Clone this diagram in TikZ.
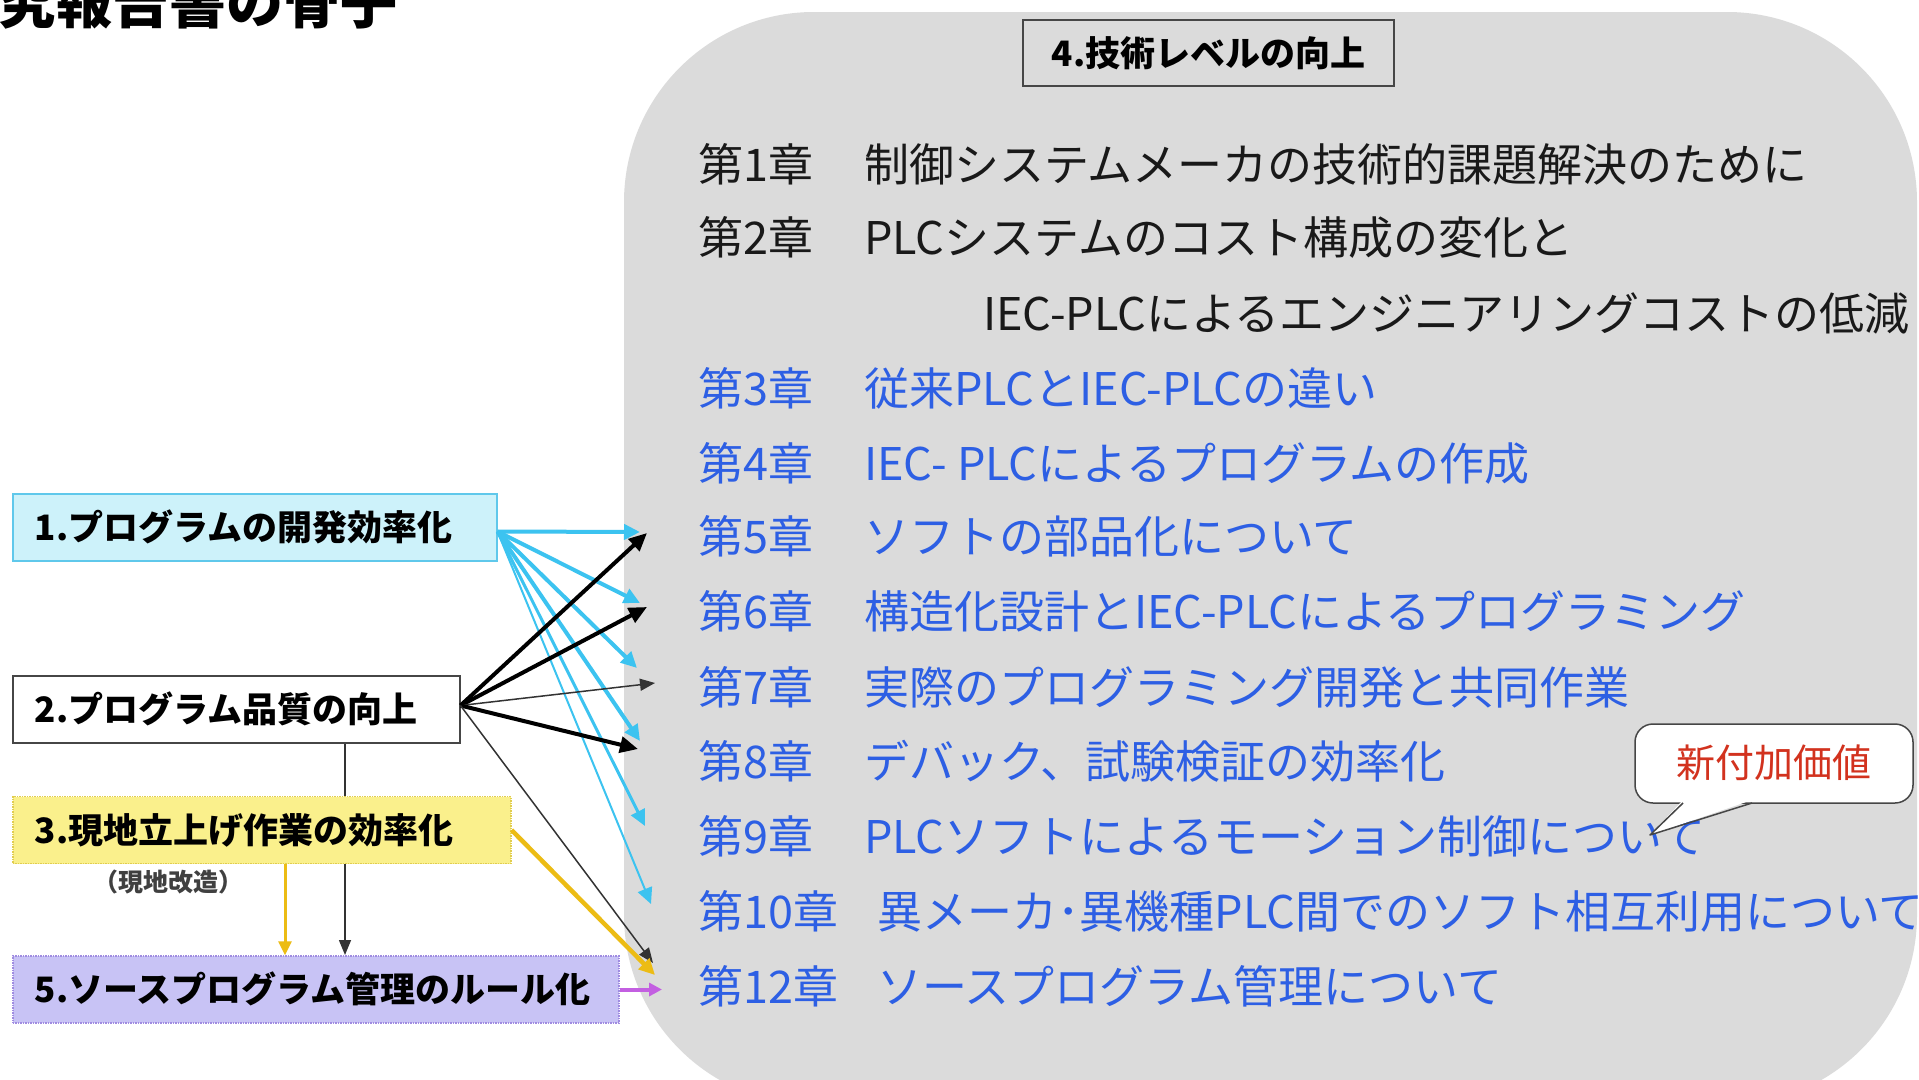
\documentclass[tikz,border=0pt]{standalone}
\usepackage{fontspec}
\newfontfamily\jp{Noto Sans CJK JP}
\usetikzlibrary{arrows.meta,backgrounds}
\definecolor{bggray}{RGB}{219,219,219}
\definecolor{chblue}{RGB}{45,95,228}
\definecolor{chblack}{RGB}{25,25,25}
\definecolor{cyfill}{RGB}{205,242,250}
\definecolor{cyline}{RGB}{95,200,235}
\definecolor{cyarrow}{RGB}{60,195,240}
\definecolor{yefill}{RGB}{250,240,140}
\definecolor{yeline}{RGB}{225,205,80}
\definecolor{yearrow}{RGB}{236,188,20}
\definecolor{pufill}{RGB}{200,195,245}
\definecolor{puline}{RGB}{160,140,225}
\definecolor{puarrow}{RGB}{195,95,225}
\definecolor{calred}{RGB}{210,50,30}
\definecolor{boxgray}{RGB}{70,70,70}
\begin{document}
\begin{tikzpicture}[x=1pt,y=-1pt,
  ch/.style={anchor=base west, inner sep=0pt, font=\jp\fontsize{45}{54}\selectfont},
  chk/.style={ch,text=chblack},
  chb/.style={ch,text=chblue},
  lbox/.style={anchor=west, inner xsep=22pt, inner ysep=0pt, align=left,
    font=\jp\bfseries\fontsize{35}{42}\selectfont, text height=29pt, text depth=2.5pt,
    line width=1.5pt, minimum height=67pt},
  cyarr/.style={draw=cyarrow, line width=4pt, -{Triangle[length=16pt,width=15pt]}},
  bkarr/.style={draw=black, line width=4pt, -{Triangle[length=18pt,width=16pt]}},
  bkthin/.style={draw=black!80, line width=1.5pt, -{Triangle[length=15pt,width=12pt]}},
  yearr/.style={draw=yearrow, line width=4.5pt, -{Triangle[length=16pt,width=15pt]}},
]
\useasboundingbox (0,0) rectangle (1919,1079);
\clip (0,0) rectangle (1919,1079);
\fill[white] (0,0) rectangle (1919,1079);

% gray panel
\fill[bggray, rounded corners=190pt] (624,12) rectangle (1917,1105);

% title (cut off at the top left)
\node[anchor=base east, inner sep=0pt, font=\jp\bfseries\fontsize{57}{60}\selectfont] (title) at (398,23) {研究報告書の骨子};

% header box
\node[draw=boxgray, line width=2.5pt, fill=bggray, minimum width=371pt, minimum height=66pt,
  inner sep=0pt, font=\jp\bfseries\fontsize{35}{42}\selectfont, text height=29pt, text depth=2.5pt]
  (b4) at (1208.5,53) {4.技術レベルの向上};

% chapters
\node[chk] (c1) at (698,181) {第1章};
\node[chk] (t1) at (864,181) {制御システムメーカの技術的課題解決のために};
\node[chk] (c2) at (698,254) {第2章};
\node[chk] (t2) at (864,254) {PLCシステムのコスト構成の変化と};
\node[chk] (t2b) at (983,330) {IEC-PLCによるエンジニアリングコストの低減};
\node[chb] (c3) at (698,405) {第3章};
\node[chb] (t3) at (864,405) {従来PLCとIEC-PLCの違い};
\node[chb] (c4) at (698,480) {第4章};
\node[chb] (t4) at (864,480) {IEC- PLCによるプログラムの作成};
\node[chb] (c5) at (698,553) {第5章};
\node[chb] (t5) at (864,553) {ソフトの部品化について};
\node[chb] (c6) at (698,628) {第6章};
\node[chb] (t6) at (864,628) {構造化設計とIEC-PLCによるプログラミング};
\node[chb] (c7) at (698,704) {第7章};
\node[chb] (t7) at (864,704) {実際のプログラミング開発と共同作業};
\node[chb] (c8) at (698,778) {第8章};
\node[chb] (t8) at (864,778) {デバック、試験検証の効率化};
\node[chb] (c9) at (698,853) {第9章};
\node[chb] (t9) at (864,853) {PLCソフトによるモーション制御について};
\node[chb] (c10) at (698,928) {第10章};
\node[chb] (t10) at (877,928) {異メーカ･異機種PLC間でのソフト相互利用について};
\node[chb] (c12) at (698,1003) {第12章};
\node[chb] (t12) at (877,1003) {ソースプログラム管理について};

% callout
\fill[white, draw=boxgray, line width=1.5pt, rounded corners=18pt] (1635,724) rectangle (1913,803);
\fill[white] (1683,800) -- (1650,835) -- (1752,800) -- cycle;
\draw[boxgray, line width=1.5pt, line join=round] (1683,803) -- (1650,835) -- (1752,803);
\node[inner sep=0pt, text=calred, font=\jp\fontsize{39}{44}\selectfont] (nv) at (1774,763) {新付加価値};

\coordinate (vx) at (345,0);
\coordinate (yx) at (285,0);

% left boxes
\node[lbox, draw=cyline, fill=cyfill, text width=440pt] (b1) at (12,527.5) {1.プログラムの開発効率化};
\node[lbox, draw=boxgray, fill=white, text width=403pt] (b2) at (12,709.5) {2.プログラム品質の向上};
\draw[bkthin] (b2.south -| vx) -- (345,955);
\node[lbox, draw=yeline, densely dotted, fill=yefill, text width=454pt] (b3) at (12,830) {3.現地立上げ作業の効率化};
\node[anchor=center, inner sep=0pt, text=black!75, font=\jp\bfseries\fontsize{25}{28}\selectfont] (kaizo) at (168,882) {（現地改造）};
\node[lbox, draw=puline, densely dotted, fill=pufill, text width=562pt] (b5) at (12,989.5) {5.ソースプログラム管理のルール化};

% arrow end points
\coordinate (e5c) at (640,532);
\coordinate (e6c) at (640,603);
\coordinate (e7c) at (637,668);
\coordinate (e8c) at (640,741);
\coordinate (e9c) at (645,826);
\coordinate (e10c) at (651,904);
\coordinate (e5k) at (647,533);
\coordinate (e6k) at (647,607);
\coordinate (e7k) at (655,683);
\coordinate (e8k) at (638,749);
\coordinate (e12k) at (653,963);
\coordinate (e12y) at (655,975);
\coordinate (e12p) at (662,989.5);

% cyan arrows
\draw[cyarr] ([yshift=-4pt]b1.east) -- (e5c);
\draw[cyarr] ([yshift=-4pt]b1.east) -- (e6c);
\draw[cyarr] ([yshift=-4pt]b1.east) -- (e7c);
\draw[cyarr] ([yshift=-4pt]b1.east) -- (e8c);
\draw[cyarr, line width=3pt] ([yshift=-4pt]b1.east) -- (e9c);
\draw[cyarr, line width=2pt] ([yshift=-4pt]b1.east) -- (e10c);

% black arrows
\draw[bkarr] ([yshift=4pt]b2.east) -- (e5k);
\draw[bkarr] ([yshift=4pt]b2.east) -- (e6k);
\draw[bkthin] ([yshift=4pt]b2.east) -- (e7k);
\draw[bkarr] ([yshift=4pt]b2.east) -- (e8k);
\draw[bkthin] ([yshift=4pt]b2.east) -- (e12k);

% yellow arrows
\draw[yearr] (b3.east) -- (e12y);
\draw[yearr, line width=3pt, -{Triangle[length=14pt,width=13pt]}] (b3.south -| yx) -- (b5.north -| yx);

% purple arrow
\draw[draw=puarrow, line width=4pt, -{Triangle[length=13pt,width=13pt]}] (b5.east) -- (e12p);
\end{tikzpicture}
\end{document}
